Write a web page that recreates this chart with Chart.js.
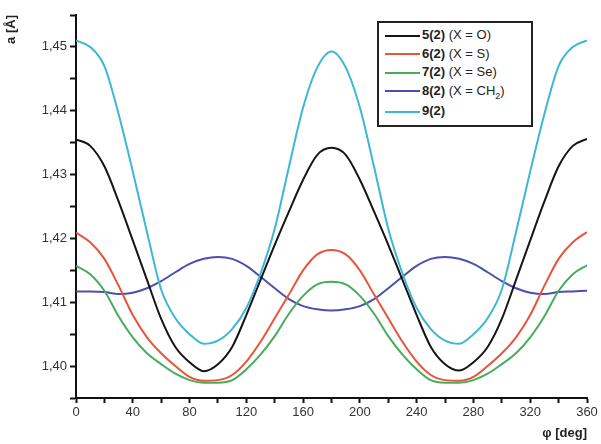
<!DOCTYPE html>
<html>
<head>
<meta charset="utf-8">
<script src="https://cdn.jsdelivr.net/npm/chart.js@4/dist/chart.umd.min.js"></script>
<style>
    body { margin: 0; background: #fff; }
    #wrap { position: relative; width: 601px; height: 444px; }
    #legend {
        position: absolute; left: 377px; top: 21px; width: 156px; height: 106px;
        box-sizing: border-box; border: 2px solid #222; background: #fff;
        padding: 3px 0 0 6px;
        font-family: "Liberation Sans", Arial, sans-serif; font-size: 13px; color: #222;
    }
    #legend .row { height: 18.5px; line-height: 18.5px; white-space: nowrap; }
    #legend .row.last { margin-top: 2px; }
    #legend .swatch { display: inline-block; width: 35px; height: 2px; vertical-align: middle; margin-right: 2px; }
    #legend b { font-weight: bold; }
    #legend sub { font-size: 9px; line-height: 0; }
</style>
</head>
<body>
<div id="wrap">
    <canvas id="chart" width="601" height="444"></canvas>
    <div id="legend"></div>
</div>
<script>
const angles = [0, 10, 20, 30, 40, 50, 60, 70, 80, 90, 100, 110, 120, 130, 140, 150, 160, 170, 180,
                190, 200, 210, 220, 230, 240, 250, 260, 270, 280, 290, 300, 310, 320, 330, 340, 350, 360];

const seriesO = [1.4355, 1.4345, 1.4313, 1.4258, 1.4197, 1.4135, 1.4074, 1.4030, 1.4006, 1.3992,
                 1.4003, 1.4030, 1.4080, 1.4135, 1.4190, 1.4242, 1.4292, 1.4331, 1.4342,
                 1.4331, 1.4292, 1.4242, 1.4190, 1.4135, 1.4080, 1.4030, 1.4003, 1.3993,
                 1.4006, 1.4030, 1.4074, 1.4135, 1.4197, 1.4258, 1.4313, 1.4345, 1.4356];
const seriesS = [1.4209, 1.4194, 1.4168, 1.4126, 1.4080, 1.4045, 1.4020, 1.4000, 1.3983, 1.3977,
                 1.3978, 1.3986, 1.4007, 1.4038, 1.4075, 1.4112, 1.4150, 1.4175, 1.4182,
                 1.4175, 1.4150, 1.4112, 1.4075, 1.4038, 1.4007, 1.3986, 1.3978, 1.3977,
                 1.3983, 1.4000, 1.4020, 1.4045, 1.4080, 1.4126, 1.4168, 1.4194, 1.4210];
const seriesSe = [1.4157, 1.4144, 1.4118, 1.4078, 1.4045, 1.4020, 1.4003, 1.3988, 1.3978, 1.3974,
                  1.3974, 1.3978, 1.3995, 1.4018, 1.4047, 1.4082, 1.4110, 1.4128, 1.4132,
                  1.4128, 1.4110, 1.4082, 1.4047, 1.4018, 1.3995, 1.3978, 1.3974, 1.3974,
                  1.3978, 1.3988, 1.4003, 1.4020, 1.4045, 1.4078, 1.4118, 1.4144, 1.4158];
const seriesCH2 = [1.4117, 1.4117, 1.4116, 1.4113, 1.4115, 1.4122, 1.4133, 1.4147, 1.4160, 1.4168,
                   1.4171, 1.4168, 1.4157, 1.4140, 1.4122, 1.4105, 1.4094, 1.4089, 1.4087,
                   1.4089, 1.4094, 1.4105, 1.4122, 1.4140, 1.4157, 1.4168, 1.4171, 1.4168,
                   1.4160, 1.4147, 1.4133, 1.4122, 1.4115, 1.4113, 1.4116, 1.4117, 1.4118];
const series9 = [1.4510, 1.4500, 1.4470, 1.4395, 1.4305, 1.4210, 1.4120, 1.4075, 1.4050, 1.4035,
                 1.4040, 1.4058, 1.4091, 1.4145, 1.4215, 1.4312, 1.4405, 1.4468, 1.4493,
                 1.4468, 1.4405, 1.4312, 1.4215, 1.4145, 1.4091, 1.4058, 1.4040, 1.4035,
                 1.4050, 1.4075, 1.4120, 1.4210, 1.4305, 1.4395, 1.4470, 1.4500, 1.4510];

const legendNums = ['5(2)', '6(2)', '7(2)', '8(2)', '9(2)'];
const legendExtra = [' (X = O)', ' (X = S)', ' (X = Se)', ' (X = CH<sub>2</sub>)', ''];
const colors = ['#151515', '#e6553c', '#45ad5c', '#4b4fae', '#3db7d3'];
const allSeries = [seriesO, seriesS, seriesSe, seriesCH2, series9];

const datasets = allSeries.map((s, i) => ({
    label: legendNums[i],
    data: angles.map((a, j) => ({ x: a, y: s[j] })),
    borderColor: colors[i],
    borderWidth: 2,
    pointRadius: 0,
    cubicInterpolationMode: 'monotone',
    fill: false
}));

// series 9 underneath, the rest on top
const order = [4, 0, 1, 2, 3];

const tickFont = { family: '"Liberation Sans", Arial, sans-serif', size: 13 };
const titleFont = { family: '"Liberation Sans", Arial, sans-serif', size: 13, weight: 'bold' };

new Chart(document.getElementById('chart'), {
    type: 'line',
    data: { datasets: order.map(i => datasets[i]) },
    options: {
        responsive: false,
        animation: false,
        layout: { padding: { top: 15, right: 14, left: 0, bottom: 0 } },
        plugins: { legend: { display: false }, tooltip: { enabled: false } },
        scales: {
            x: {
                type: 'linear',
                min: 0, max: 360,
                afterFit: scale => { scale.height = 46; },
                border: { color: '#111', width: 2 },
                grid: { drawOnChartArea: false, drawTicks: true, tickLength: 5, color: '#111', tickWidth: 2 },
                ticks: {
                    stepSize: 20, autoSkip: false, maxRotation: 0, padding: 2,
                    color: '#333', font: tickFont,
                    callback: v => (v % 40 === 0 ? String(v) : '')
                },
                title: { display: true, text: 'φ [deg]', align: 'end', color: '#222', font: titleFont,
                         padding: { top: 0, bottom: 3 } }
            },
            y: {
                min: 1.395, max: 1.455,
                afterFit: scale => { scale.width = 76; },
                border: { color: '#111', width: 2 },
                grid: { drawOnChartArea: false, drawTicks: true, tickLength: 6, color: '#111', tickWidth: 2 },
                ticks: {
                    stepSize: 0.005, autoSkip: false, padding: 3,
                    color: '#333', font: tickFont,
                    callback: v => {
                        const k = Math.round(v * 1000);
                        return k % 10 === 0 ? (k / 1000).toFixed(2).replace('.', ',') : '';
                    }
                },
                title: { display: true, text: 'a [Å]', align: 'end', color: '#222', font: titleFont,
                         padding: { top: 4, bottom: 0 } }
            }
        }
    }
});

document.getElementById('legend').innerHTML = legendNums.map((n, i) => `
    <div class="row${i === 4 ? ' last' : ''}">
        <span class="swatch" style="background:${colors[i]}"></span><b>${n}</b>${legendExtra[i]}
    </div>
`).join('');
</script>
</body>
</html>
